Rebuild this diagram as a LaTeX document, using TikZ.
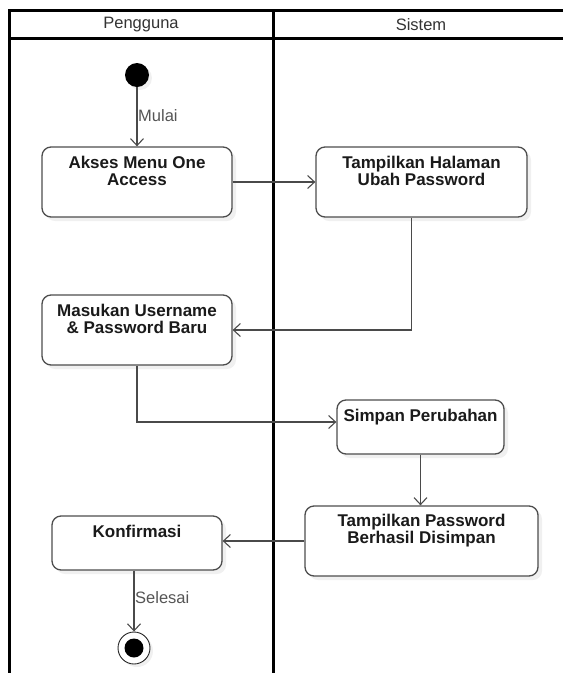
\documentclass[tikz,border=0pt]{standalone}
\usepackage{fontspec}
\setmainfont{Liberation Sans}
\usetikzlibrary{arrows.meta,shadows}

\definecolor{boxgray}{HTML}{4D4D4D}
\definecolor{linegray}{HTML}{4A4A4A}
\definecolor{textdark}{HTML}{1A1A1A}
\definecolor{labelgray}{HTML}{555555}
\definecolor{headgray}{HTML}{333333}

\begin{document}
\begin{tikzpicture}[x=1pt,y=-1pt,
  lane/.style={line width=3pt, draw=black},
  act/.style={draw=boxgray, line width=1.3pt, rounded corners=9pt, fill=white,
    drop shadow={opacity=0.12, shadow xshift=4pt, shadow yshift=-4pt}, inner sep=0pt},
  acttext/.style={font=\bfseries\fontsize{17}{17}\selectfont, text=textdark,
    align=center, inner sep=0pt, anchor=north},
  flow/.style={draw=linegray, line width=1.1pt,
    -{Straight Barb[length=7pt,width=13pt,line width=1.1pt]}},
  guard/.style={font=\fontsize{16.5}{17}\selectfont, text=labelgray, inner sep=1pt, anchor=west},
  head/.style={font=\fontsize{16.5}{17}\selectfont, text=headgray, inner sep=0pt}]

\useasboundingbox (0,0) rectangle (563,673);

% swimlane frame
\draw[lane] (9,673) -- (9,10) -- (575,10);
\draw[lane] (9,38) -- (575,38);
\draw[lane] (273,10) -- (273,673);
\node[head] (laneA) at (141,25) {Pengguna};
\node[head] (laneB) at (421,25) {Sistem};

% initial node
\node[circle, fill=black, minimum size=24pt, inner sep=0pt,
  drop shadow={opacity=0.12, shadow xshift=3pt, shadow yshift=-3pt}] (start) at (137,75) {};

% actions
\node[act, minimum width=190pt, minimum height=70pt] (akses) at (137,182) {};
\node[acttext] (aksesT) at ([yshift=-10pt]akses.north) {Akses Menu One\\Access};

\node[act, minimum width=211pt, minimum height=70pt] (tampil) at (421.5,182) {};
\node[acttext] (tampilT) at ([yshift=-10pt]tampil.north) {Tampilkan Halaman\\Ubah Password};

\node[act, minimum width=190pt, minimum height=70pt] (masuk) at (137,330) {};
\node[acttext] (masukT) at ([yshift=-10pt]masuk.north) {Masukan Username\\\& Password Baru};

\node[act, minimum width=167pt, minimum height=54pt] (simpan) at (420.5,427) {};
\node[acttext] (simpanT) at ([yshift=-10pt]simpan.north) {Simpan Perubahan};

\node[act, minimum width=233pt, minimum height=70pt] (sukses) at (421.5,541) {};
\node[acttext] (suksesT) at ([yshift=-9pt]sukses.north) {Tampilkan Password\\Berhasil Disimpan};

\node[act, minimum width=170pt, minimum height=54pt] (konfirm) at (137,543) {};
\node[acttext] (konfirmT) at ([yshift=-10pt]konfirm.north) {Konfirmasi};

% final node
\node[circle, draw=black!85, line width=0.9pt, fill=white, minimum size=32pt, inner sep=0pt,
  drop shadow={opacity=0.12, shadow xshift=3pt, shadow yshift=-3pt}] (end) at (134,648) {};
\node[circle, fill=black, minimum size=19pt, inner sep=0pt] (endDot) at (end.center) {};

% control flow
\draw[flow] (start) -- (akses.north);
\node[guard] (mulai) at (137,116) {Mulai};
\draw[flow] (akses.east) -- (tampil.west);
\draw[flow] ([xshift=-10pt]tampil.south) |- (masuk.east);
\draw[flow] (masuk.south) |- ([yshift=5pt]simpan.west);
\draw[flow] (simpan.south) -- (simpan.south |- sukses.north);
\draw[flow] (sukses.west) -- (konfirm.east |- sukses.west);
\draw[flow] (end.north |- konfirm.south) -- (end.north);
\node[guard] (selesai) at (134,598) {Selesai};
\end{tikzpicture}
\end{document}
